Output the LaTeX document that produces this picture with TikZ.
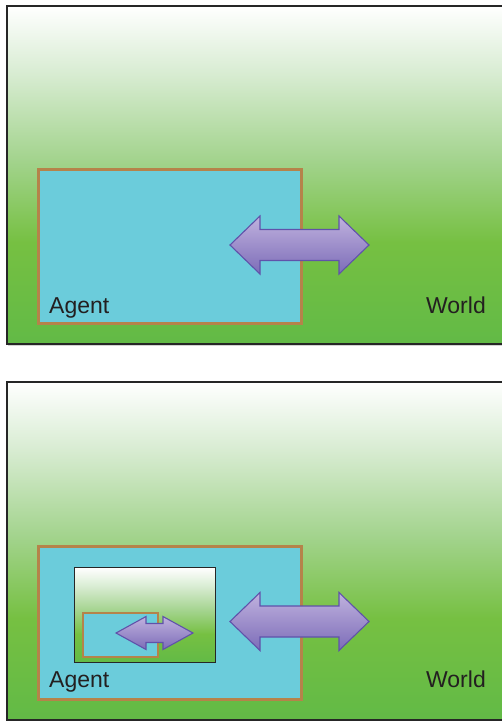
\documentclass[tikz,border=0pt]{standalone}
\usepackage{fontspec}
\setmainfont{Liberation Sans}
\usepackage{xcolor}
\usepackage{tikz}
\usetikzlibrary{positioning, calc, shadows}
\definecolor{wgreen}{RGB}{98,186,70}
\definecolor{wgreen2}{RGB}{118,192,66}
\definecolor{wgreen3}{RGB}{162,211,140}
\definecolor{wgreen4}{RGB}{216,236,210}
\definecolor{agcyan}{RGB}{107,204,219}
\definecolor{agbrown}{RGB}{181,131,74}
\definecolor{arrtop}{RGB}{192,178,222}
\definecolor{arrbot}{RGB}{124,108,184}
\definecolor{arrline}{RGB}{96,82,170}
\definecolor{txtgray}{RGB}{35,31,32}
\pgfdeclareverticalshading{worldshade}{100bp}{color(0bp)=(wgreen); color(25bp)=(wgreen); color(40bp)=(wgreen2); color(52bp)=(wgreen3); color(65bp)=(wgreen4); color(75bp)=(white); color(100bp)=(white)}
\tikzset{
  world/.style={draw=black!85, line width=1.5pt, shading=worldshade, inner sep=0pt, anchor=north west},
  agent/.style={draw=agbrown, line width=2.6pt, fill=agcyan, inner sep=0pt, anchor=north west},
  arrowbody/.style={draw=arrline, line width=1.1pt, top color=arrtop, bottom color=arrbot, line join=miter},
  lbl/.style={inner sep=0pt, text=txtgray, font=\fontsize{23}{27}\selectfont}
}
% double arrow: center, half length, half head height, half shaft height
\newcommand{\dblarrow}[4]{%
  \path[arrowbody] (#1) ++(-#2,0) -- ++(30,-#3) -- ++(0,#3-#4) -- ++(2*#2-60,0)
    -- ++(0,-#3+#4) -- ++(30,#3) -- ++(-30,#3) -- ++(0,-#3+#4) -- ++(-2*#2+60,0)
    -- ++(0,#3-#4) -- cycle;}

\begin{document}
\begin{tikzpicture}[x=1pt,y=-1pt]
\useasboundingbox (0,0) rectangle (502,721);
\clip (0,0) rectangle (502,721);
% Top panel
\node[world, drop shadow={shadow xshift=1.5pt, shadow yshift=-2pt, opacity=.35}, minimum width=510pt, minimum height=338pt] (world1) at (6,5) {};
\node[agent, minimum width=263pt, minimum height=154pt] (agent1) at (37,168) {};
\coordinate (arr1) at (299.5,245);
\dblarrow{arr1}{69.5}{29}{15.5}
\node[lbl, anchor=base west] (agentlbl1) at (49,313) {Agent};
\node[lbl, anchor=base east] (worldlbl1) at (486,313) {World};
% Bottom panel
\node[world, drop shadow={shadow xshift=1.5pt, shadow yshift=-2pt, opacity=.35}, minimum width=510pt, minimum height=338pt] (world2) at (6,381) {};
\node[agent, minimum width=263pt, minimum height=153pt] (agent2) at (37,545) {};
\coordinate (arr2) at (299.5,621.5);
\dblarrow{arr2}{69.5}{29}{15.5}
\node[lbl, anchor=base west] (agentlbl2) at (49,687) {Agent};
\node[lbl, anchor=base east] (worldlbl2) at (486,687) {World};
% Model of the world inside the agent
\node[world, line width=1pt, minimum width=141pt, minimum height=95pt] (world3) at (74,567) {};
\node[agent, line width=2pt, minimum width=75pt, minimum height=44pt] (agent3) at (82,612) {};
\coordinate (arr3) at (154.5,633);
\dblarrow{arr3}{38.5}{16.5}{9.5}
\end{tikzpicture}
\end{document}
